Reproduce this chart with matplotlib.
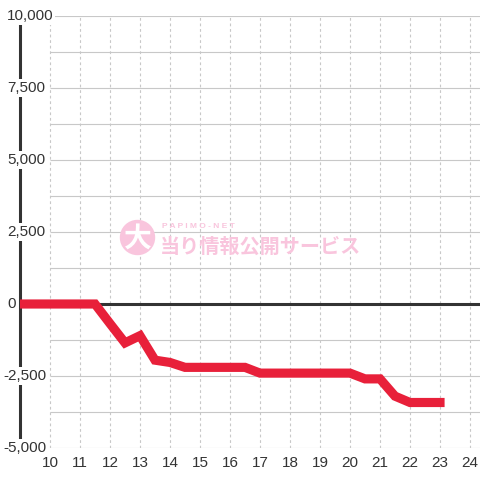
import matplotlib
matplotlib.use("Agg")
import matplotlib.pyplot as plt
from matplotlib.patches import Circle

# ======================= DATA =======================

hours = [9.0, 9.5, 10.0, 10.5, 11.0, 11.5, 12.0, 12.5, 13.0, 13.5, 14.0, 14.5,
         15.0, 15.5, 16.0, 16.5, 17.0, 17.5, 18.0, 18.5, 19.0, 19.5, 20.0,
         20.5, 21.0, 21.5, 22.0, 22.5, 23.0]
diff = [0, 0, 0, 0, 0, 0, -680, -1350, -1100, -1950, -2030, -2200,
        -2200, -2200, -2200, -2200, -2400, -2400, -2400, -2400, -2400, -2400, -2400,
        -2600, -2600, -3200, -3420, -3420, -3420]

x_ticks = list(range(10, 25))
y_labels = [10000, 7500, 5000, 2500, 0, -2500, -5000]
y_grid = [-5000, -3750, -2500, -1250, 1250, 2500, 3750, 5000, 6250, 7500, 8750, 10000]

# ======================= STYLE =======================

plt.rcParams["font.family"] = ["Liberation Sans", "DejaVu Sans"]
TEXT = "#333333"
GRID = "#c8c8c8"
RED = "#e8203a"
PINK = "#f9c5dd"

W = H = 480
fig = plt.figure(figsize=(4.8, 4.8), dpi=100)
ax = fig.add_axes([20 / W, 32 / H, 460 / W, 432 / H])
ax.set_xlim(9, 9 + 460 / 30)
ax.set_ylim(-5000, 10000)

for s in ["top", "right", "bottom"]:
    ax.spines[s].set_visible(False)
ax.spines["left"].set_color(TEXT)
ax.spines["left"].set_linewidth(2.2)
ax.spines["left"].set_zorder(1)

# watermark
fig.patches.append(Circle((137.5 / W, 1 - 237.5 / H), 17 / W, transform=fig.transFigure,
                          color=PINK, zorder=0))
fig.text(137.5 / W, 1 - 239 / H, "大", color="white", fontsize=20, fontweight="bold",
         family=["Noto Sans CJK JP"], ha="center", va="center", zorder=0.5)
fig.text(162 / W, 1 - 227 / H, "P A P I M O - N E T", color=PINK, fontsize=6,
         fontweight="bold", ha="left", va="center", zorder=0.5)
fig.text(160 / W, 1 - 246 / H, "当り情報公開サービス", color=PINK, fontsize=14.5,
         fontweight="bold", family=["Noto Sans CJK JP"], ha="left", va="center", zorder=0.5)

# grid
ax.hlines(y_grid, 10, ax.get_xlim()[1], color=GRID, lw=0.8, zorder=1)
ax.vlines(x_ticks, -5000, 10000, color=GRID, lw=0.8, linestyles=(0, (2.5, 2.5)), zorder=1)
ax.axhline(0, color=TEXT, lw=2.2, zorder=2)

ax.plot(hours, diff, color=RED, lw=6.6, solid_capstyle="projecting",
        solid_joinstyle="miter", zorder=3)

# ticks
ax.set_xticks(x_ticks)
ax.set_xticklabels([str(t) for t in x_ticks], fontsize=11, color=TEXT)
ax.tick_params(axis="x", length=0, pad=6)
ax.set_yticks([])

for v in y_labels:
    ax.annotate(f"{v:,}", xy=(0, v), xycoords=("axes fraction", "data"),
                xytext=(-17 if v < 0 else -13, 0), textcoords="offset pixels",
                ha="left", va="center", fontsize=11, color=TEXT, zorder=5,
                bbox=dict(boxstyle="square,pad=0.1", fc="white", ec="none"),
                annotation_clip=False)

fig.savefig("out.png", dpi=100)
